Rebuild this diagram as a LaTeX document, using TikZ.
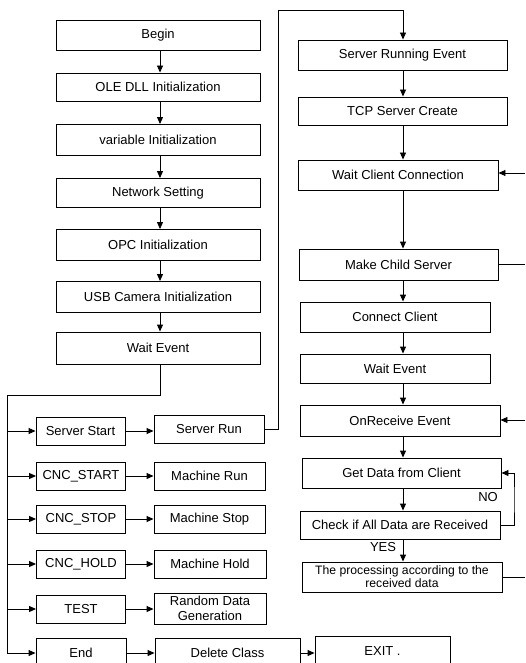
\documentclass[tikz,border=0pt]{standalone}
\usepackage{fontspec}
\setmainfont{Liberation Sans}
\usetikzlibrary{arrows.meta}
\begin{document}
\begin{tikzpicture}[x=1pt,y=-1pt,
  box/.style={draw, line width=0.9pt, inner sep=1pt, align=center,
    font=\fontsize{13}{14.5}\selectfont},
  arr/.style={line width=0.9pt, -{Triangle[length=7pt,width=6pt]}},
  ln/.style={line width=0.9pt},
  lbl/.style={inner sep=0pt, font=\fontsize{13}{14.5}\selectfont}]
\useasboundingbox (0,0) rectangle (525,663);
\clip (0,0) rectangle (525,663);

% initialisation sequence
\node[box, minimum width=204pt, minimum height=30pt] (begin) at (158,35) {Begin};
\node[box, minimum width=204pt, minimum height=28pt] (ole)   at (158,87) {OLE DLL Initialization};
\node[box, minimum width=204pt, minimum height=31pt] (var)   at (158,140) {variable Initialization};
\node[box, minimum width=204pt, minimum height=29pt] (net)   at (158,193) {Network Setting};
\node[box, minimum width=204pt, minimum height=31pt] (opc)   at (158,245) {OPC Initialization};
\node[box, minimum width=204pt, minimum height=31pt] (usb)   at (158,297) {USB Camera Initialization};
\node[box, minimum width=204pt, minimum height=32pt] (wait)  at (158,348) {Wait Event};

% event branches
\node[box, minimum width=89pt, minimum height=28pt] (ss)   at (80.5,431) {Server Start};
\node[box, minimum width=89pt, minimum height=28pt] (cst)  at (81,476) {CNC\_START};
\node[box, minimum width=89pt, minimum height=28pt] (csp)  at (81,519) {CNC\_STOP};
\node[box, minimum width=89pt, minimum height=28pt] (chd)  at (81,564) {CNC\_HOLD};
\node[box, minimum width=89pt, minimum height=28pt] (tst)  at (81,609) {TEST};
\node[box, minimum width=90pt, minimum height=30pt] (endb) at (81,653) {End};

\node[box, minimum width=110pt, minimum height=28pt] (srun) at (209,429) {Server Run};
\node[box, minimum width=111pt, minimum height=28pt] (mrun) at (209.5,476) {Machine Run};
\node[box, minimum width=111pt, minimum height=28pt] (mstp) at (209.5,519) {Machine Stop};
\node[box, minimum width=112pt, minimum height=28pt] (mhld) at (210,564) {Machine Hold};
\node[box, minimum width=112pt, minimum height=31pt] (rnd)  at (210,608.5) {Random Data\\Generation};
\node[box, minimum width=145pt, minimum height=30pt] (del)  at (227.5,653) {Delete Class};
\node[box, minimum width=135pt, minimum height=30pt] (exit) at (382.5,651) {EXIT .};

% server thread
\node[box, minimum width=209pt, minimum height=30pt] (sre) at (402.5,55) {Server Running Event};
\node[box, minimum width=209pt, minimum height=28pt] (tcp) at (402.5,111) {TCP Server Create};
\node[box, minimum width=200pt, minimum height=30pt] (wcc) at (398,175) {Wait Client Connection};
\node[box, minimum width=199pt, minimum height=31pt] (mcs) at (398.5,264.5) {Make Child Server};
\node[box, minimum width=190pt, minimum height=30pt] (cc)  at (395,317) {Connect Client};
\node[box, minimum width=190pt, minimum height=29pt] (we2) at (395,368.5) {Wait Event};
\node[box, minimum width=200pt, minimum height=31pt] (ore) at (400,420.5) {OnReceive Event};
\node[box, minimum width=199pt, minimum height=30pt] (gd)  at (401.5,473) {Get Data from Client};
\node[box, minimum width=200pt, minimum height=28pt] (chk) at (400,525) {Check if All Data are Received};
\node[box, minimum width=200pt, minimum height=30pt, font=\fontsize{12.2}{13.2}\selectfont] (proc) at (402,577) {The processing according to the\\received data};

% column lines for the vertical arrows
\coordinate (lcol) at (160,0);
\coordinate (rcol) at (403,0);

% main sequence arrows
\foreach \a/\b in {begin/ole, ole/var, var/net, net/opc, opc/usb, usb/wait}
  \draw[arr] (\a.south -| lcol) -- (\b.north -| lcol);

% event dispatch trunk
\coordinate (trk) at (7,395);
\draw[ln] (wait.south -| lcol) |- (trk);
\foreach \b in {ss, cst, csp, chd, tst, endb}
  \draw[arr] (trk) |- (\b.west);

\foreach \a/\b in {ss/srun, cst/mrun, csp/mstp, chd/mhld, tst/rnd, endb/del, del/exit}
  \draw[arr] (\a.east) -- (\a.east -| \b.west);

% server run to server thread
\coordinate (up) at (278,10);
\draw[arr] (srun.east) -| (up) -| (sre.north -| rcol);

% server thread sequence
\foreach \a/\b in {sre/tcp, tcp/wcc, wcc/mcs, mcs/cc, cc/we2, we2/ore, ore/gd, gd/chk, chk/proc}
  \draw[arr] (\a.south -| rcol) -- (\b.north -| rcol);

% return paths leaving at the right edge
\coordinate (rA) at (525,173);
\coordinate (rB) at (525,264);
\coordinate (rC) at (525,420);
\coordinate (rD) at (525,575);
\draw[arr] (rA) -- (rA -| wcc.east);
\draw[ln] (mcs.east) -- (mcs.east -| rB);
\draw[arr] (rC) -- (rC -| ore.east);
\draw[ln] (proc.east) -- (proc.east -| rD);

% receive loop
\coordinate (lp) at (514,500);
\draw[arr] (chk.east) -| (lp) |- (gd.east);
\node[lbl] (no) at (488,497) {NO};
\node[lbl] (yes) at (383,547) {YES};
\end{tikzpicture}
\end{document}
